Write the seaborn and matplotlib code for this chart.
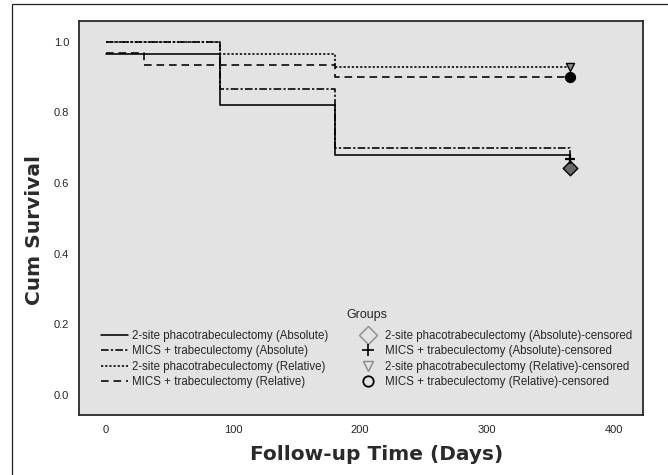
import numpy as np
import pandas as pd
import seaborn as sns
import matplotlib
matplotlib.use("Agg")
import matplotlib.pyplot as plt
from matplotlib.lines import Line2D
from matplotlib.patches import Rectangle

# ---------------- data ----------------
groups = [
    "2-site phacotrabeculectomy (Absolute)",
    "MICS + trabeculectomy (Absolute)",
    "2-site phacotrabeculectomy (Relative)",
    "MICS + trabeculectomy (Relative)",
]
times_2site_abs = [0, 90, 180, 365]
surv_2site_abs = [0.964, 0.821, 0.679, 0.643]
times_mics_abs = [0, 90, 180, 365]
surv_mics_abs = [1.000, 0.867, 0.700, 0.667]
times_2site_rel = [0, 90, 180, 365]
surv_2site_rel = [1.000, 0.964, 0.929, 0.929]
times_mics_rel = [0, 30, 180, 365]
surv_mics_rel = [0.967, 0.933, 0.900, 0.900]

censor_time = [365, 365, 365, 365]
censor_surv = [0.643, 0.667, 0.929, 0.900]

x_ticks = [0, 100, 200, 300, 400]
y_ticks = [0.0, 0.2, 0.4, 0.6, 0.8, 1.0]

# ---------------- style ----------------
sns.set_style("white")
plt.rcParams["font.family"] = ["Liberation Sans", "DejaVu Sans"]
plt.rcParams["lines.scale_dashes"] = False

rows = []
for g, t, s in zip(groups,
                   [times_2site_abs, times_mics_abs, times_2site_rel, times_mics_rel],
                   [surv_2site_abs, surv_mics_abs, surv_2site_rel, surv_mics_rel]):
    for ti, si in zip(t, s):
        rows.append({"group": g, "time": ti, "surv": si})
df = pd.DataFrame(rows)

dashes = {
    groups[0]: "",
    groups[1]: (5.5, 1.6, 1.6, 1.6),
    groups[2]: (1.6, 1.4),
    groups[3]: (5.5, 3.5),
}

fig = plt.figure(figsize=(6.68, 4.75), dpi=100)
fig.patch.set_facecolor("white")
ax = fig.add_axes([79 / 668, 1 - 415 / 475, (643 - 79) / 668, (415 - 21) / 475])
ax.set_facecolor("#e3e3e3")

sns.lineplot(data=df, x="time", y="surv", hue="group", hue_order=groups,
             palette=["black"] * 4, style="group", style_order=groups,
             dashes=dashes, drawstyle="steps-post", estimator=None,
             legend=False, lw=1.15, ax=ax)

plot_markers = ["D", "+", "v", "o"]
plot_face = ["#6a6a6a", "black", "#8a8a8a", "black"]
plot_size = [55, 60, 34, 50]
for i in range(4):
    if plot_markers[i] == "+":
        sns.scatterplot(x=[censor_time[i]], y=[censor_surv[i]], marker="+",
                        color="black", s=plot_size[i], linewidth=1.6, ax=ax, zorder=5)
    else:
        sns.scatterplot(x=[censor_time[i]], y=[censor_surv[i]], marker=plot_markers[i],
                        color=plot_face[i], edgecolor="black", s=plot_size[i],
                        linewidth=1.0, ax=ax, zorder=5)

ax.set_xlim(-21.3, 422.8)
ax.set_ylim(-0.0566, 1.0586)
ax.set_xticks(x_ticks)
ax.set_xticklabels([str(v) for v in x_ticks])
ax.set_yticks(y_ticks)
ax.set_yticklabels([f"{v:.1f}" for v in y_ticks])
ax.tick_params(axis="x", direction="out", length=4.5, width=1.1, pad=3,
               labelsize=8, color="#222222")
ax.tick_params(axis="y", direction="out", length=5.5, width=1.1, pad=1.5,
               labelsize=8, color="#222222")
for sp in ax.spines.values():
    sp.set_visible(True)
    sp.set_color("#2a2a2a")
    sp.set_linewidth(1.3)

ax.set_xlabel("Follow-up Time (Days)", fontsize=14.5, family="DejaVu Sans",
              fontweight="bold", color="#2a2a2a")
ax.set_ylabel("Cum Survival", fontsize=14.5, family="DejaVu Sans",
              fontweight="bold", color="#2a2a2a")
ax.xaxis.label.set_va("center")
ax.yaxis.label.set_va("center")
ax.xaxis.set_label_coords((377 - 79) / 564, (415 - 454) / 394)
ax.yaxis.set_label_coords((35 - 79) / 564, (415 - 230) / 394)

# legend
line_handles = [Line2D([0], [0], color="black", lw=1.15, dashes=dashes[g])
                if dashes[g] else Line2D([0], [0], color="black", lw=1.15, linestyle="-")
                for g in groups]
marker_handles = [
    Line2D([0], [0], marker="D", linestyle="none", markersize=9,
           markerfacecolor="none", markeredgecolor="#8a8a8a", markeredgewidth=1.0),
    Line2D([0], [0], marker="+", linestyle="none", markersize=8,
           color="black", markeredgewidth=1.2),
    Line2D([0], [0], marker="v", linestyle="none", markersize=6.5,
           markerfacecolor="none", markeredgecolor="#8a8a8a", markeredgewidth=1.0),
    Line2D([0], [0], marker="o", linestyle="none", markersize=7.5,
           markerfacecolor="none", markeredgecolor="black", markeredgewidth=1.3),
]
labels = groups + [g + "-censored" for g in groups]
leg = ax.legend(line_handles + marker_handles, labels, ncol=2, title="Groups",
                frameon=False, loc="lower center", bbox_to_anchor=(0.51, 0.043),
                fontsize=8.3, title_fontsize=9, handlelength=2.3, handletextpad=0.35,
                columnspacing=2.3, labelspacing=0.27)
leg._legend_box.sep = 7

# outer frame
fig.add_artist(Rectangle((12 / 668, -0.5), 2.0, 1 - 4 / 475 + 0.5,
                         transform=fig.transFigure, fill=False,
                         edgecolor="#222222", lw=0.9))

fig.savefig("out.png", dpi=100)
